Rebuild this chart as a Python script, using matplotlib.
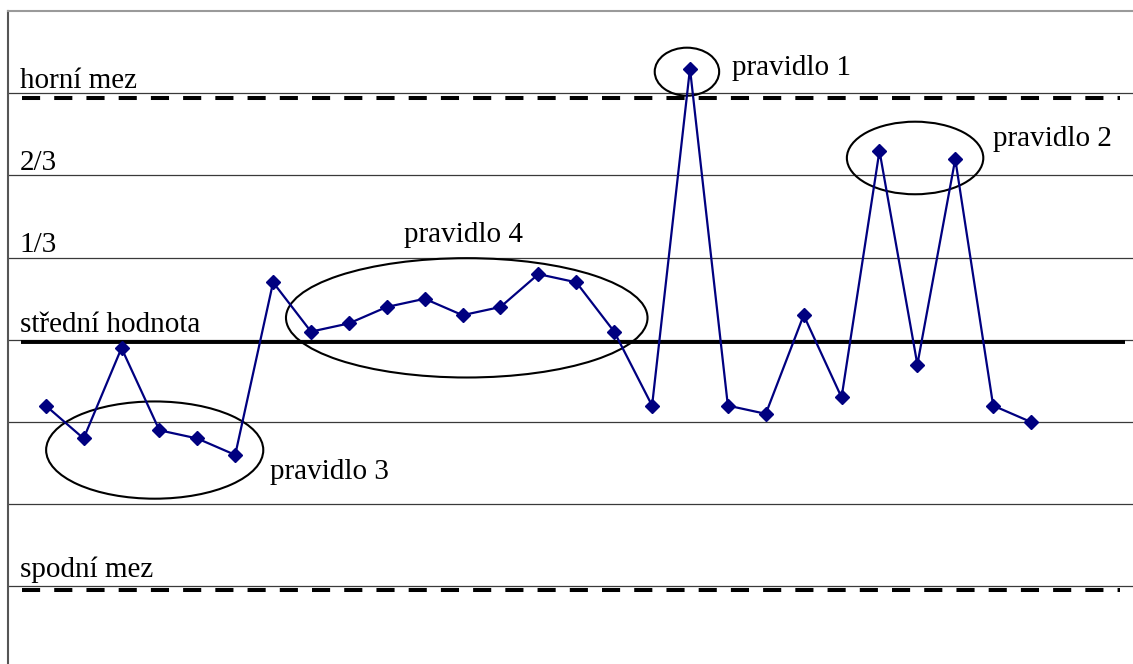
import matplotlib
matplotlib.use("Agg")
import matplotlib.pyplot as plt
from matplotlib.patches import Ellipse

# ---- data ----
values = [-0.8, -1.2, -0.1, -1.1, -1.2, -1.4, 0.7, 0.1, 0.2, 0.4, 0.5, 0.3, 0.4, 0.8,
          0.7, 0.1, -0.8, 3.3, -0.8, -0.9, 0.3, -0.7, 2.3, -0.3, 2.2, -0.8, -1.0]
grid_levels = [-3, -2, -1, 0, 1, 2, 3]
level_labels = ["horní mez", "2/3", "1/3", "střední hodnota", "spodní mez"]
level_label_y = [3.065, 2.067, 1.067, 0.10, -2.88]
upper_limit = 2.94
mean_line = -0.03
lower_limit = -3.04
# rule annotations: label, text x, text y, ellipse cx, cy, w, h
rule_labels = ["pravidlo 1", "pravidlo 2", "pravidlo 3", "pravidlo 4"]
rule_text_xy = [(18.10, 3.22), (25.0, 2.356), (5.92, -1.69), (9.45, 1.195)]
rule_ellipses = [(16.92, 3.263, 1.70, 0.584),
                 (22.94, 2.213, 3.60, 0.883),
                 (2.876, -1.341, 5.73, 1.183),
                 (11.11, 0.268, 9.54, 1.452)]

W, H = 1133, 664
fig = plt.figure(figsize=(W / 100, H / 100), dpi=100)
ax = fig.add_axes([8 / W, 0, 1125 / W, (664 - 10.7) / H])
ax.set_xlim(-0.995, 28.69)
ax.set_ylim(-3.944, 4.005)

for s in ["right", "bottom"]:
    ax.spines[s].set_visible(False)
ax.spines["top"].set_color("#9a9a9a")
ax.spines["top"].set_linewidth(1.5)
ax.spines["left"].set_color("#555555")
ax.spines["left"].set_linewidth(1.5)
ax.set_xticks([])
ax.set_yticks([])

for g in grid_levels:
    ax.axhline(g, color="#3a3a3a", lw=0.9, zorder=1)

# limit lines
ax.plot([-0.626, 28.35], [upper_limit, upper_limit], color="black", lw=2.9,
        dashes=(4.5, 3.5), solid_capstyle="butt", dash_capstyle="butt", zorder=2)
ax.plot([-0.626, 28.35], [lower_limit, lower_limit], color="black", lw=2.9,
        dashes=(4.5, 3.5), solid_capstyle="butt", dash_capstyle="butt", zorder=2)
ax.plot([-0.652, 28.48], [mean_line, mean_line], color="black", lw=2.8,
        solid_capstyle="butt", zorder=2)

x = list(range(len(values)))
ax.plot(x, values, color="#000080", lw=1.6, marker="D", markersize=7.2,
        markerfacecolor="#000080", markeredgecolor="#000080", zorder=4)

font = dict(family="Liberation Serif", size=21, color="black")
for lab, yy in zip(level_labels, level_label_y):
    ax.text(-0.69, yy, lab, ha="left", va="baseline", zorder=5, **font)

for lab, (tx, ty), (cx, cy, ew, eh) in zip(rule_labels, rule_text_xy, rule_ellipses):
    ax.add_patch(Ellipse((cx, cy), ew, eh, fill=False, edgecolor="black", lw=1.5, zorder=3))
    ax.text(tx, ty, lab, ha="left", va="baseline", zorder=5, **font)

fig.savefig("out.png", dpi=100)
